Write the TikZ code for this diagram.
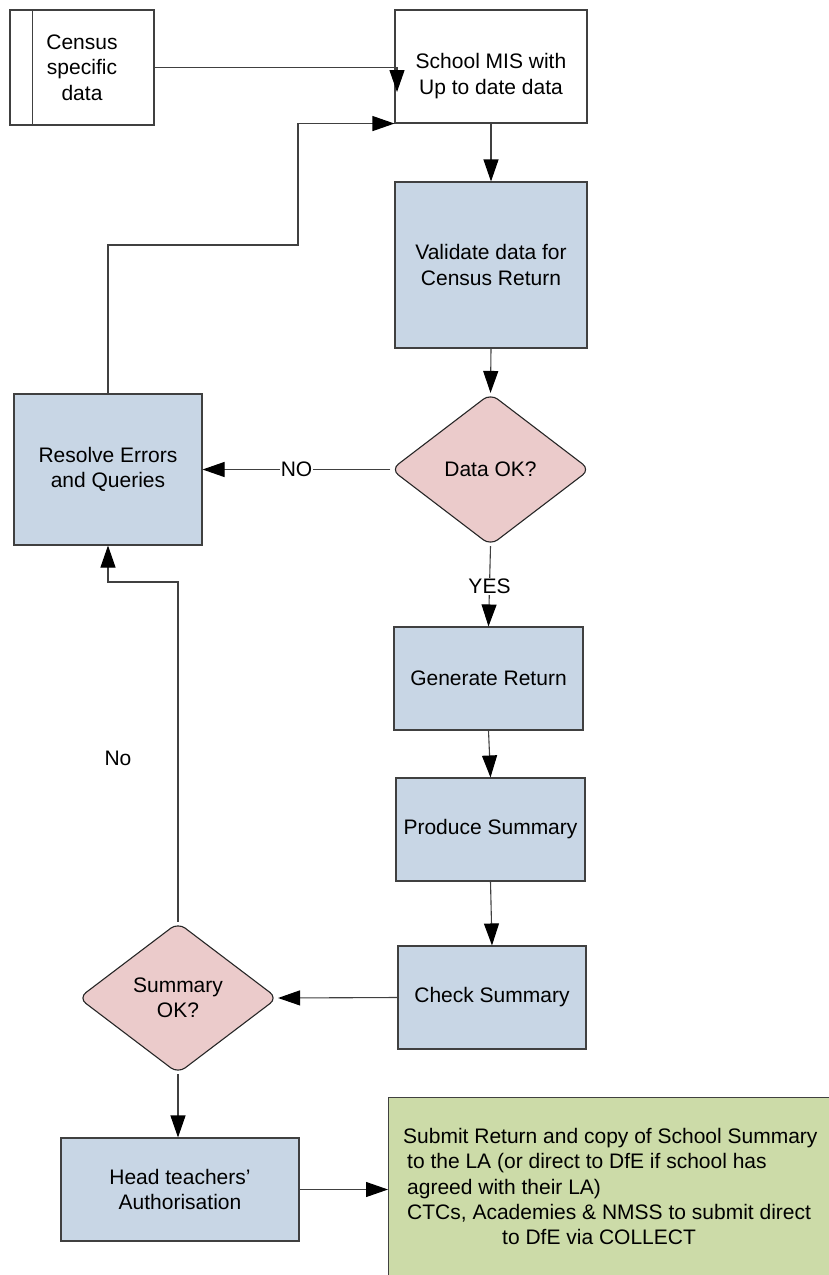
\documentclass[tikz,border=0pt]{standalone}
\usepackage{fontspec}
\setmainfont{Liberation Sans}
\usetikzlibrary{arrows.meta,shapes.geometric}
\definecolor{lineC}{HTML}{404040}
\definecolor{blueF}{HTML}{C8D6E5}
\definecolor{pinkF}{HTML}{EBCBCB}
\definecolor{greenF}{HTML}{CCDBA8}
\tikzset{
  every node/.style={font=\fontsize{21}{25.3}\selectfont, align=center, inner sep=0pt},
  whitebox/.style={draw=lineC, line width=1.1pt, fill=white, rectangle},
  bluebox/.style={draw=lineC, line width=1.1pt, fill=blueF, rectangle},
  decision/.style={draw=black!85, line width=1.1pt, fill=pinkF, diamond, rounded corners=9pt},
  conn/.style={draw=lineC, line width=1.1pt, -{Triangle[length=22pt,width=15pt,black]}},
  lbl/.style={fill=white, inner sep=1pt}
}
\begin{document}
\begin{tikzpicture}[x=1pt,y=-1pt]
\useasboundingbox (0,0) rectangle (829,1275);
\clip (0,0) rectangle (829,1275);
% nodes
\node[whitebox, minimum width=144pt, minimum height=115pt] (census) at (82,67.5) {Census\\specific\\data};
\draw[lineC, line width=1.1pt] ([xshift=23pt]census.north west) -- ([xshift=23pt]census.south west);
\node[whitebox, minimum width=192pt, minimum height=113pt] (mis) at (491,66.5) {};
\node (mistext) at (491,76) {School MIS with\\Up to date data};
\node[bluebox, minimum width=192pt, minimum height=166pt] (validate) at (491,265) {Validate data for\\Census Return};
\node[decision, minimum width=199pt, minimum height=152pt] (dataok) at (490.5,469.5) {Data OK?};
\node[bluebox, minimum width=188pt, minimum height=151pt] (resolve) at (108,469.5) {Resolve Errors\\and Queries};
\node[bluebox, minimum width=189pt, minimum height=103pt] (generate) at (488.5,678.5) {Generate Return};
\node[bluebox, minimum width=189pt, minimum height=103pt] (produce) at (490.5,829.5) {Produce Summary};
\node[bluebox, minimum width=188pt, minimum height=103pt] (check) at (492,997.5) {Check Summary};
\node[decision, minimum width=199pt, minimum height=151pt] (sumok) at (178,998) {Summary\\OK?};
\node[bluebox, minimum width=238pt, minimum height=103pt] (head) at (180,1189.5) {Head teachers'\\Authorisation};
\node[draw=lineC, line width=1.1pt, fill=greenF, rectangle, minimum width=450pt, minimum height=190pt, anchor=north west] (green) at (388,1097) {};
\node[anchor=north west, align=left] (greentext) at (403,1128) {Submit Return and copy of School Summary\\
\hspace*{4pt}to the LA (or direct to DfE if school has\\
\hspace*{4pt}agreed with their LA)\\
\hspace*{4pt}CTCs, Academies \& NMSS to submit direct\\
\hspace*{99pt}to DfE via COLLECT};
\node (nolabel) at (118,758) {No};
% helper coordinates
\coordinate (c1) at (397,92);
\coordinate (j1) at (298,245);
\coordinate (j2) at (108,582);
% connectors
\draw[conn] (census.east) -| (c1);
\draw[conn] (resolve.north) |- (j1) |- (mis.south west);
\draw[conn] (mis.south) -- (validate.north);
\draw[conn] (validate.south) -- (dataok.north);
\draw[conn] (dataok.west) -- node[lbl] (nolbl) {NO} (resolve.east);
\draw[conn] (dataok.south) -- node[lbl] (yeslbl) {YES} (generate.north);
\draw[conn] (generate.south) -- (produce.north);
\draw[conn] (produce.south) -- (check.north);
\draw[conn] (check.west) -- (sumok.east);
\draw[conn] (sumok.north) |- (j2) -- (resolve.south);
\draw[conn] (sumok.south) -- (sumok.south |- head.north);
\draw[conn] (head.east) -- (head.east -| green.west);
\end{tikzpicture}
\end{document}
